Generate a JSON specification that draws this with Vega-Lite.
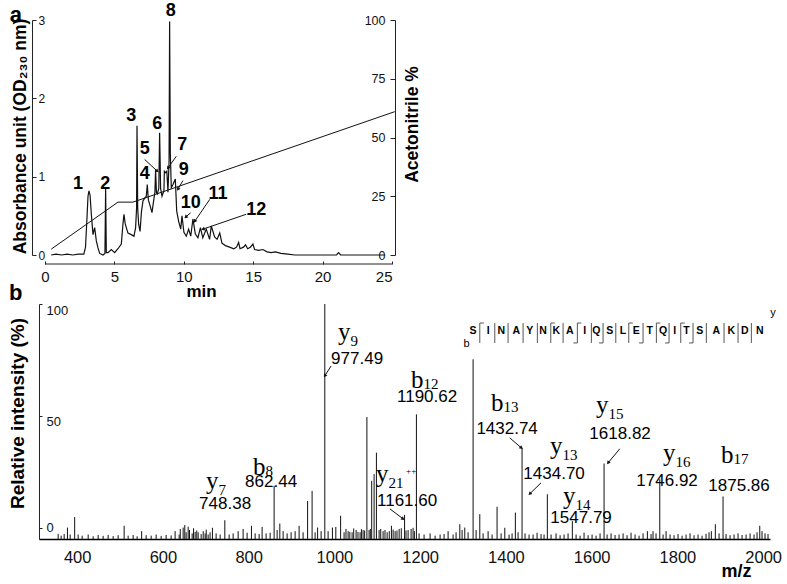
{
  "$schema": "https://vega.github.io/schema/vega-lite/v6.json",
  "background": "white",
  "padding": {"left": 8, "top": 2, "right": 5, "bottom": 5},
  "bounds": "flush",
  "spacing": 49,
  "config": {
    "view": {"stroke": null},
    "font": "Liberation Sans",
    "axis": {"grid": false, "domainColor": "#222", "tickColor": "#222", "labelColor": "#111", "titleColor": "#000", "labelFont": "Liberation Sans", "titleFont": "Liberation Sans", "titleFontWeight": "bold"}
  },
  "datasets": {
    "trace": [
      {"t":0.45,"a":0.0},{"t":0.8,"a":0.01},{"t":1.2,"a":0.0},{"t":1.6,"a":0.01},{"t":2.0,"a":0.0},{"t":2.4,"a":0.01},{"t":2.8,"a":0.01},{"t":2.92,"a":0.1},{"t":3.02,"a":0.45},{"t":3.1,"a":0.75},{"t":3.17,"a":0.82},{"t":3.25,"a":0.76},{"t":3.34,"a":0.52},{"t":3.46,"a":0.26},{"t":3.58,"a":0.35},{"t":3.7,"a":0.18},{"t":3.82,"a":0.09},{"t":3.94,"a":0.02},{"t":4.18,"a":0.0},{"t":4.32,"a":0.02},{"t":4.37,"a":0.85},{"t":4.42,"a":0.03},{"t":4.54,"a":0.03},{"t":4.78,"a":0.07},{"t":5.02,"a":0.03},{"t":5.26,"a":0.08},{"t":5.5,"a":0.14},{"t":5.62,"a":0.4},{"t":5.69,"a":0.52},{"t":5.78,"a":0.4},{"t":5.86,"a":0.35},{"t":5.98,"a":0.28},{"t":6.22,"a":0.26},{"t":6.41,"a":0.24},{"t":6.53,"a":0.35},{"t":6.6,"a":0.6},{"t":6.63,"a":1.65},{"t":6.68,"a":0.6},{"t":6.75,"a":0.39},{"t":6.85,"a":0.3},{"t":6.95,"a":0.55},{"t":7.06,"a":0.69},{"t":7.2,"a":0.73},{"t":7.3,"a":0.75},{"t":7.37,"a":0.9},{"t":7.45,"a":0.7},{"t":7.54,"a":0.65},{"t":7.71,"a":0.54},{"t":7.85,"a":0.72},{"t":7.92,"a":0.8},{"t":7.97,"a":1.09},{"t":8.03,"a":0.8},{"t":8.09,"a":0.78},{"t":8.2,"a":0.85},{"t":8.26,"a":1.56},{"t":8.33,"a":0.85},{"t":8.43,"a":0.75},{"t":8.57,"a":0.82},{"t":8.6,"a":1.07},{"t":8.7,"a":1.05},{"t":8.78,"a":1.07},{"t":8.86,"a":0.8},{"t":8.94,"a":1.2},{"t":8.98,"a":2.98},{"t":9.03,"a":1.3},{"t":9.1,"a":0.86},{"t":9.22,"a":0.9},{"t":9.39,"a":0.97},{"t":9.49,"a":0.56},{"t":9.63,"a":0.43},{"t":9.78,"a":0.33},{"t":9.87,"a":0.5},{"t":10.01,"a":0.29},{"t":10.18,"a":0.24},{"t":10.35,"a":0.33},{"t":10.5,"a":0.24},{"t":10.66,"a":0.46},{"t":10.83,"a":0.27},{"t":11.02,"a":0.22},{"t":11.2,"a":0.35},{"t":11.37,"a":0.22},{"t":11.62,"a":0.33},{"t":11.86,"a":0.2},{"t":11.98,"a":0.37},{"t":12.22,"a":0.23},{"t":12.4,"a":0.2},{"t":12.59,"a":0.28},{"t":12.75,"a":0.15},{"t":13.0,"a":0.12},{"t":13.3,"a":0.1},{"t":13.6,"a":0.08},{"t":13.8,"a":0.1},{"t":13.95,"a":0.16},{"t":14.05,"a":0.08},{"t":14.3,"a":0.1},{"t":14.45,"a":0.13},{"t":14.6,"a":0.08},{"t":14.8,"a":0.1},{"t":14.98,"a":0.14},{"t":15.1,"a":0.07},{"t":15.4,"a":0.06},{"t":15.7,"a":0.07},{"t":16.0,"a":0.04},{"t":16.3,"a":0.03},{"t":16.6,"a":0.04},{"t":17.0,"a":0.02},{"t":17.5,"a":0.01},{"t":18,"a":0},{"t":19,"a":0},{"t":20,"a":0},{"t":21,"a":0},{"t":21.15,"a":0.03},{"t":21.3,"a":0},{"t":22,"a":0},{"t":23,"a":0},{"t":24.5,"a":0}
    ],
    "grad": [{"t":0.45,"p":2.5},{"t":5.26,"p":22.5},{"t":6.34,"p":22.5},{"t":25.2,"p":61}],
    "alabels": [
      {"t":2.38,"a":0.91,"label":"1"},{"t":4.34,"a":0.91,"label":"2"},{"t":6.22,"a":1.78,"label":"3"},{"t":7.18,"a":1.03,"label":"4"},{"t":7.18,"a":1.35,"label":"5"},{"t":8.09,"a":1.67,"label":"6"},{"t":9.89,"a":1.41,"label":"7"},{"t":9.06,"a":3.11,"label":"8"},{"t":9.99,"a":1.09,"label":"9"},{"t":10.5,"a":0.67,"label":"10"},{"t":12.46,"a":0.78,"label":"11"},{"t":15.22,"a":0.58,"label":"12"}
    ],
    "aarrows": [
      {"t":7.18,"a":1.22,"t2":8.09,"a2":1.07,"ang":132.9},
      {"t":9.46,"a":1.26,"t2":8.86,"a2":1.11,"ang":215.4},
      {"t":9.94,"a":0.95,"t2":9.58,"a2":0.84,"ang":211},
      {"t":10.5,"a":0.54,"t2":10.14,"a2":0.485,"ang":229.3},
      {"t":11.87,"a":0.71,"t2":10.79,"a2":0.43,"ang":214.7},
      {"t":14.5,"a":0.52,"t2":11.38,"a2":0.33,"ang":250.9}
    ],
    "peaks": [
      {"mz":355.7,"i":-2.7},{"mz":362.7,"i":-3.5},{"mz":369.7,"i":-2.8},{"mz":377.4,"i":0.1},{"mz":383.7,"i":-3},{"mz":394.2,"i":4.8},{"mz":402.3,"i":-3},{"mz":411.7,"i":-3.5},{"mz":425.7,"i":-3},{"mz":437.3,"i":-3.8},{"mz":449,"i":-3.2},{"mz":460.6,"i":-3.6},{"mz":472.3,"i":-3.2},{"mz":484,"i":-3.7},{"mz":495.6,"i":-3.3},{"mz":509.6,"i":0.9},{"mz":518.9,"i":-3.5},{"mz":530.6,"i":-3.2},{"mz":539.9,"i":-3.8},{"mz":550.4,"i":-1.5},{"mz":560.9,"i":-3.3},{"mz":572.6,"i":-3.5},{"mz":584.2,"i":-3},{"mz":595.9,"i":-3.6},{"mz":607.5,"i":-3.2},{"mz":619.2,"i":-3.4},{"mz":628.5,"i":-1.5},{"mz":637.9,"i":-3},{"mz":640.5,"i":-0.5},{"mz":647.2,"i":0.1},{"mz":651,"i":1.2},{"mz":654.2,"i":-2},{"mz":658.9,"i":0.5},{"mz":662,"i":-1},{"mz":668.2,"i":-2.5},{"mz":671.5,"i":-0.2},{"mz":675.2,"i":-1.8},{"mz":679,"i":-1.2},{"mz":682.2,"i":-2},{"mz":689.2,"i":-2.8},{"mz":694,"i":-1.5},{"mz":698.5,"i":-2.5},{"mz":701,"i":-0.8},{"mz":705.5,"i":-3},{"mz":710,"i":-2},{"mz":715.5,"i":0},{"mz":724.1,"i":-2.5},{"mz":733.5,"i":-3},{"mz":744.4,"i":3.4},{"mz":754.5,"i":-3},{"mz":763.8,"i":-2.5},{"mz":775.5,"i":-1.5},{"mz":787.1,"i":-0.5},{"mz":796.4,"i":-2.2},{"mz":806.5,"i":0.9},{"mz":815.1,"i":-2.5},{"mz":824.4,"i":-2.8},{"mz":831.4,"i":0.4},{"mz":840.7,"i":-2.5},{"mz":850.1,"i":-2.2},{"mz":859.4,"i":18.75},{"mz":866.4,"i":-1},{"mz":872.7,"i":1.9},{"mz":880.4,"i":-1.5},{"mz":889.7,"i":-2.5},{"mz":899,"i":-2},{"mz":908.4,"i":-1.5},{"mz":917.7,"i":0.9},{"mz":927,"i":-2},{"mz":937.5,"i":12},{"mz":948,"i":16.5},{"mz":955,"i":-2},{"mz":960.8,"i":0.1},{"mz":969,"i":-1.5},{"mz":977.6,"i":100},{"mz":985.3,"i":-1.5},{"mz":995.4,"i":0.1},{"mz":1003.3,"i":0.4},{"mz":1014.5,"i":5.4},{"mz":1022.6,"i":-2},{"mz":1027,"i":-0.5},{"mz":1032,"i":-1.5},{"mz":1036,"i":-1.8},{"mz":1041.3,"i":-2},{"mz":1045,"i":-0.3},{"mz":1050.6,"i":-1},{"mz":1055,"i":-1.8},{"mz":1059.9,"i":-2},{"mz":1063,"i":-0.6},{"mz":1066.9,"i":-1},{"mz":1070.5,"i":-1.2},{"mz":1075.8,"i":49.5},{"mz":1080.9,"i":-1},{"mz":1083.8,"i":-0.5},{"mz":1087,"i":21},{"mz":1092.6,"i":24},{"mz":1098,"i":33.6},{"mz":1104.3,"i":-1},{"mz":1108,"i":-0.5},{"mz":1113.6,"i":-1.5},{"mz":1118,"i":-1},{"mz":1123,"i":-2},{"mz":1128,"i":-1.5},{"mz":1133,"i":0.9},{"mz":1137,"i":-0.8},{"mz":1141.6,"i":-1.5},{"mz":1146,"i":-1.2},{"mz":1151,"i":-0.5},{"mz":1156,"i":-0.2},{"mz":1163.7,"i":5.8},{"mz":1167,"i":-1.2},{"mz":1171.9,"i":-1},{"mz":1178.9,"i":-0.5},{"mz":1183.5,"i":0},{"mz":1186.5,"i":-1.5},{"mz":1191.3,"i":50.7},{"mz":1197.5,"i":-2.5},{"mz":1209.2,"i":-3},{"mz":1223.2,"i":-2.5},{"mz":1234.9,"i":-3.5},{"mz":1246.5,"i":-3},{"mz":1255.8,"i":-2.8},{"mz":1265.2,"i":-1.5},{"mz":1276.8,"i":-3},{"mz":1283.8,"i":-2},{"mz":1292.5,"i":1.6},{"mz":1297.8,"i":-1},{"mz":1304.1,"i":0.1},{"mz":1311.8,"i":-2},{"mz":1323.5,"i":75.3},{"mz":1330.5,"i":-1},{"mz":1339.1,"i":6.1},{"mz":1346.8,"i":-2.5},{"mz":1358.5,"i":-1.5},{"mz":1367.8,"i":-3},{"mz":1379.4,"i":9.4},{"mz":1388.8,"i":-2.5},{"mz":1397.4,"i":0},{"mz":1407.4,"i":-3},{"mz":1414.4,"i":-2.5},{"mz":1422.1,"i":6.8},{"mz":1428.4,"i":-2},{"mz":1437.7,"i":35.8},{"mz":1444.7,"i":-2.5},{"mz":1454,"i":-3},{"mz":1463.4,"i":-3},{"mz":1472.7,"i":-2.2},{"mz":1482,"i":-2.8},{"mz":1489,"i":-3},{"mz":1496.7,"i":15},{"mz":1505.4,"i":-3},{"mz":1517,"i":-2.5},{"mz":1526.4,"i":-3.3},{"mz":1535.7,"i":-3},{"mz":1545,"i":-2.5},{"mz":1555,"i":3},{"mz":1563.7,"i":-3},{"mz":1573,"i":-3.5},{"mz":1582.3,"i":-2.2},{"mz":1591.7,"i":-3.3},{"mz":1601,"i":-3},{"mz":1610.3,"i":-3.5},{"mz":1619.6,"i":-2.5},{"mz":1629,"i":28.7},{"mz":1636,"i":-3},{"mz":1645.3,"i":-2.5},{"mz":1654.6,"i":-3.2},{"mz":1663.9,"i":-3},{"mz":1673.3,"i":-2.5},{"mz":1682.6,"i":-3.3},{"mz":1691.9,"i":-2.2},{"mz":1701.3,"i":-3},{"mz":1710.6,"i":-3.5},{"mz":1719.9,"i":-2.5},{"mz":1730,"i":-1.5},{"mz":1738.6,"i":-2.8},{"mz":1743.2,"i":-1.5},{"mz":1750.2,"i":-2.5},{"mz":1758.9,"i":21.7},{"mz":1766.6,"i":-3},{"mz":1773.6,"i":-1.5},{"mz":1782.9,"i":-3},{"mz":1792.2,"i":-3.3},{"mz":1801.5,"i":-2.8},{"mz":1810.9,"i":-3.5},{"mz":1820.2,"i":-3},{"mz":1829.5,"i":-2.5},{"mz":1838.8,"i":-3.3},{"mz":1848.2,"i":-3},{"mz":1857.5,"i":-3.5},{"mz":1866.8,"i":-2.7},{"mz":1873.8,"i":-2},{"mz":1879.2,"i":-1.5},{"mz":1888.5,"i":1.6},{"mz":1897.2,"i":-2.5},{"mz":1906.5,"i":14},{"mz":1913.5,"i":-2.8},{"mz":1922.8,"i":-3.3},{"mz":1932.2,"i":-3},{"mz":1941.5,"i":-2.5},{"mz":1950.8,"i":-3.2},{"mz":1960.2,"i":-3},{"mz":1969.5,"i":-2.5},{"mz":1978.8,"i":-3},{"mz":1985.8,"i":-2},{"mz":1992.1,"i":0.9},{"mz":1997.4,"i":-1.5},{"mz":2004.4,"i":-2.5},{"mz":2011.4,"i":-2.8}
    ],
    "ions": [
      {"mz":1008.6,"i":83.9,"ion":"y","sub":"9","sup":""},
      {"mz":810.4,"i":23.6,"ion":"b","sub":"8","sup":""},
      {"mz":700.8,"i":17.4,"ion":"y","sub":"7","sup":""},
      {"mz":1178.9,"i":62.4,"ion":"b","sub":"12","sup":""},
      {"mz":1097.3,"i":20.5,"ion":"y","sub":"21","sup":"++"},
      {"mz":1365.4,"i":52.2,"ion":"b","sub":"13","sup":""},
      {"mz":1503,"i":33,"ion":"y","sub":"13","sup":""},
      {"mz":1533.4,"i":10.7,"ion":"y","sub":"14","sup":""},
      {"mz":1610.3,"i":51.3,"ion":"y","sub":"15","sup":""},
      {"mz":1766.6,"i":29.9,"ion":"y","sub":"16","sup":""},
      {"mz":1901.8,"i":29,"ion":"b","sub":"17","sup":""}
    ],
    "vals": [
      {"mz":1053,"i":75.4,"v":"977.49"},{"mz":852.4,"i":20.3,"v":"862.44"},{"mz":745.1,"i":10.7,"v":"748.38"},{"mz":1216.2,"i":58.3,"v":"1190.62"},{"mz":1169.6,"i":12.1,"v":"1161.60"},{"mz":1402.8,"i":44.2,"v":"1432.74"},{"mz":1512.4,"i":24.1,"v":"1434.70"},{"mz":1575.3,"i":4.5,"v":"1547.79"},{"mz":1666.3,"i":42,"v":"1618.82"},{"mz":1775.9,"i":21,"v":"1746.92"},{"mz":1943.8,"i":18.75,"v":"1875.86"}
    ],
    "barrows": [
      {"mz":992.3,"i":72.3,"mz2":977.6,"i2":67.9,"ang":212},
      {"mz":1129.2,"i":8.5,"mz2":1160.2,"i2":4,"ang":126.9},
      {"mz":1409,"i":40.2,"mz2":1436.1,"i2":35.7,"ang":130.8},
      {"mz":1482,"i":20.1,"mz2":1455.7,"i2":15.2,"ang":225.8},
      {"mz":1665.6,"i":35.3,"mz2":1638.3,"i2":29,"ang":219.9}
    ],
    "seq": [
      {"mz":1323.5,"r":"S"},{"mz":1358.5,"r":"I"},{"mz":1389.5,"r":"N"},{"mz":1424.5,"r":"A"},{"mz":1455.7,"r":"Y"},{"mz":1486.7,"r":"N"},{"mz":1517.7,"r":"K"},{"mz":1548.9,"r":"A"},{"mz":1583.9,"r":"I"},{"mz":1611,"r":"Q"},{"mz":1642.2,"r":"S"},{"mz":1673.3,"r":"L"},{"mz":1704.3,"r":"E"},{"mz":1735.5,"r":"T"},{"mz":1766.6,"r":"Q"},{"mz":1793.8,"r":"I"},{"mz":1820.9,"r":"T"},{"mz":1852.1,"r":"S"},{"mz":1890.8,"r":"A"},{"mz":1925.8,"r":"K"},{"mz":1957.1,"r":"D"},{"mz":1992.1,"r":"N"}
    ],
    "seqlines": [
      {"mz":1339.1},{"mz":1374.1},{"mz":1405.1},{"mz":1440.1},{"mz":1473.4},{"mz":1504.7},{"mz":1533.4},{"mz":1566.7},{"mz":1599.4},{"mz":1626.6},{"mz":1656.3},{"mz":1686.6},{"mz":1719.9},{"mz":1751},{"mz":1780.6},{"mz":1807.8},{"mz":1836.5},{"mz":1867.5},{"mz":1908.8},{"mz":1941.5},{"mz":1972.5}
    ],
    "hooks": [
      {"mz":1339.1,"mz2":1348.4,"i":91.5},{"mz":1504.7,"mz2":1514,"i":91.5},{"mz":1566.7,"mz2":1576,"i":91.5},{"mz":1686.6,"mz2":1695.9,"i":91.5},{"mz":1751,"mz2":1760.3,"i":91.5},{"mz":1807.8,"mz2":1817.1,"i":91.5},
      {"mz":1557.4,"mz2":1566.7,"i":82.6},{"mz":1617.3,"mz2":1626.6,"i":82.6},{"mz":1710.6,"mz2":1719.9,"i":82.6},{"mz":1771.3,"mz2":1780.6,"i":82.6},{"mz":1827.2,"mz2":1836.5,"i":82.6}
    ]
  },
  "vconcat": [
    {
      "width": 353,
      "height": 235,
      "layer": [
        {
          "layer": [
            {
              "data": {"name": "trace"},
              "mark": {"type": "line", "color": "#111", "strokeWidth": 1.2},
              "encoding": {
                "x": {"field": "t", "type": "quantitative", "scale": {"domain": [-0.43, 25], "nice": false, "zero": false},
                      "axis": {"values": [0,5,10,15,20,25], "format": "d", "title": "min", "domain": false, "offset": 9, "tickSize": -3, "labelPadding": 8, "labelFontSize": 15, "titleFontSize": 17, "titleX": 162, "titleY": 27, "titleBaseline": "middle", "titleAlign": "center"}},
                "y": {"field": "a", "type": "quantitative", "scale": {"domain": [0, 3], "nice": false, "zero": false},
                      "axis": {"orient": "left", "values": [0,1,2,3], "format": "d", "offset": 7, "tickSize": -4, "labelPadding": -2, "labelAlign": "left", "labelFontSize": 12, "title": "Absorbance unit (OD₂₃₀ nm)", "titleFontSize": 17.5, "titleAngle": -90, "titleX": -12, "titleY": 116, "titleAlign": "center", "titleBaseline": "middle"}}
              }
            },
            {
              "data": {"values": [{"t": 0, "t2": 25, "a": -0.115}]},
              "mark": {"type": "rule", "color": "#222", "strokeWidth": 1},
              "encoding": {
                "x": {"field": "t", "type": "quantitative"},
                "x2": {"field": "t2"},
                "y": {"field": "a", "type": "quantitative"}
              }
            },
            {
              "data": {"name": "alabels"},
              "mark": {"type": "text", "fontSize": 18, "fontWeight": "bold", "align": "center", "baseline": "middle", "color": "#000"},
              "encoding": {
                "x": {"field": "t", "type": "quantitative"},
                "y": {"field": "a", "type": "quantitative"},
                "text": {"field": "label"}
              }
            },
            {
              "data": {"name": "aarrows"},
              "mark": {"type": "rule", "color": "#111", "strokeWidth": 1},
              "encoding": {
                "x": {"field": "t", "type": "quantitative"},
                "y": {"field": "a", "type": "quantitative"},
                "x2": {"field": "t2"},
                "y2": {"field": "a2"}
              }
            },
            {
              "data": {"name": "aarrows"},
              "mark": {"type": "point", "shape": "triangle-up", "filled": true, "color": "#111", "size": 16, "opacity": 1},
              "encoding": {
                "x": {"field": "t2", "type": "quantitative"},
                "y": {"field": "a2", "type": "quantitative"},
                "angle": {"field": "ang", "type": "quantitative", "scale": null}
              }
            },
            {
              "data": {"values": [{"t": -2.09, "a": 3.07, "s": "a"}]},
              "mark": {"type": "text", "fontSize": 22, "fontWeight": "bold", "align": "center", "baseline": "middle", "color": "#000"},
              "encoding": {
                "x": {"field": "t", "type": "quantitative"},
                "y": {"field": "a", "type": "quantitative"},
                "text": {"field": "s"}
              }
            }
          ]
        },
        {
          "data": {"name": "grad"},
          "mark": {"type": "line", "color": "#111", "strokeWidth": 1},
          "encoding": {
            "x": {"field": "t", "type": "quantitative"},
            "y": {"field": "p", "type": "quantitative", "scale": {"domain": [0, 100], "nice": false, "zero": false},
                  "axis": {"orient": "right", "values": [0,25,50,75,100], "format": "d", "offset": 3, "tickSize": -5, "labelPadding": -5, "labelAlign": "right", "labelFontSize": 12.5, "title": "Acetonitrile %", "titleFontSize": 17.5, "titleAngle": -90, "titleX": 17, "titleY": 104, "titleAlign": "center", "titleBaseline": "middle"}}
          }
        }
      ],
      "resolve": {"scale": {"y": "independent"}}
    },
    {
      "width": 731,
      "height": 235,
      "layer": [
        {
          "data": {"name": "peaks"},
          "mark": {"type": "rule", "color": "#111", "strokeWidth": 1},
          "encoding": {
            "x": {"field": "mz", "type": "quantitative", "scale": {"domain": [311, 2016], "nice": false, "zero": false},
                  "axis": {"values": [400,600,800,1000,1200,1400,1600,1800,2000], "format": "d", "ticks": false, "tickSize": 0, "labelPadding": 10, "labelFontSize": 16.5, "domainColor": "#000", "domainWidth": 1.5, "title": "m/z", "titleFontSize": 18, "titleX": 697, "titleY": 32, "titleAlign": "center", "titleBaseline": "middle"}},
            "y": {"field": "i", "type": "quantitative", "scale": {"domain": [-5, 100], "nice": false, "zero": false},
                  "axis": {"values": [0,50,100], "format": "d", "tickSize": -3, "labelPadding": -4, "labelAlign": "left", "labelBaseline": {"condition": {"test": "datum.value === 0", "value": "middle"}, "value": "top"}, "labelFontSize": 13, "title": "Relative intensity (%)", "titleFontSize": 19, "titleAngle": -90, "titleX": -21.5, "titleY": 109, "titleAlign": "center", "titleBaseline": "middle"}},
            "y2": {"datum": -5}
          }
        },
        {
          "data": {"name": "ions"},
          "mark": {"type": "text", "font": "Liberation Serif", "fontSize": 25, "align": "left", "baseline": "alphabetic", "color": "#000"},
          "encoding": {
            "x": {"field": "mz", "type": "quantitative"},
            "y": {"field": "i", "type": "quantitative"},
            "text": {"field": "ion"}
          }
        },
        {
          "data": {"name": "ions"},
          "transform": [{"filter": "datum.ion === 'y'"}],
          "mark": {"type": "text", "font": "Liberation Serif", "fontSize": 15, "align": "left", "baseline": "alphabetic", "dx": 12.5, "dy": 6, "color": "#000"},
          "encoding": {
            "x": {"field": "mz", "type": "quantitative"},
            "y": {"field": "i", "type": "quantitative"},
            "text": {"field": "sub"}
          }
        },
        {
          "data": {"name": "ions"},
          "transform": [{"filter": "datum.ion === 'b'"}],
          "mark": {"type": "text", "font": "Liberation Serif", "fontSize": 15, "align": "left", "baseline": "alphabetic", "dx": 12.5, "dy": 1, "color": "#000"},
          "encoding": {
            "x": {"field": "mz", "type": "quantitative"},
            "y": {"field": "i", "type": "quantitative"},
            "text": {"field": "sub"}
          }
        },
        {
          "data": {"name": "ions"},
          "mark": {"type": "text", "font": "Liberation Serif", "fontSize": 9, "align": "left", "baseline": "alphabetic", "dx": 30, "dy": -8, "color": "#000"},
          "encoding": {
            "x": {"field": "mz", "type": "quantitative"},
            "y": {"field": "i", "type": "quantitative"},
            "text": {"field": "sup"}
          }
        },
        {
          "data": {"name": "vals"},
          "mark": {"type": "text", "fontSize": 17, "align": "center", "baseline": "middle", "color": "#000"},
          "encoding": {
            "x": {"field": "mz", "type": "quantitative"},
            "y": {"field": "i", "type": "quantitative"},
            "text": {"field": "v"}
          }
        },
        {
          "data": {"name": "barrows"},
          "mark": {"type": "rule", "color": "#111", "strokeWidth": 1},
          "encoding": {
            "x": {"field": "mz", "type": "quantitative"},
            "y": {"field": "i", "type": "quantitative"},
            "x2": {"field": "mz2"},
            "y2": {"field": "i2"}
          }
        },
        {
          "data": {"name": "barrows"},
          "mark": {"type": "point", "shape": "triangle-up", "filled": true, "color": "#111", "size": 16, "opacity": 1},
          "encoding": {
            "x": {"field": "mz2", "type": "quantitative"},
            "y": {"field": "i2", "type": "quantitative"},
            "angle": {"field": "ang", "type": "quantitative", "scale": null}
          }
        },
        {
          "data": {"name": "seq"},
          "mark": {"type": "text", "fontSize": 10.5, "fontWeight": "bold", "align": "center", "baseline": "middle", "color": "#000"},
          "encoding": {
            "x": {"field": "mz", "type": "quantitative"},
            "y": {"datum": 87.9, "type": "quantitative"},
            "text": {"field": "r"}
          }
        },
        {
          "data": {"name": "seqlines"},
          "mark": {"type": "rule", "color": "#555", "strokeWidth": 1},
          "encoding": {
            "x": {"field": "mz", "type": "quantitative"},
            "y": {"datum": 91.5, "type": "quantitative"},
            "y2": {"datum": 82.6}
          }
        },
        {
          "data": {"name": "hooks"},
          "mark": {"type": "rule", "color": "#555", "strokeWidth": 1},
          "encoding": {
            "x": {"field": "mz", "type": "quantitative"},
            "x2": {"field": "mz2"},
            "y": {"field": "i", "type": "quantitative"}
          }
        },
        {
          "data": {"values": [{"mz": 1308.3, "i": 82.1, "s": "b"}, {"mz": 2023.1, "i": 96, "s": "y"}]},
          "mark": {"type": "text", "fontSize": 11, "align": "center", "baseline": "middle", "color": "#000"},
          "encoding": {
            "x": {"field": "mz", "type": "quantitative"},
            "y": {"field": "i", "type": "quantitative"},
            "text": {"field": "s"}
          }
        },
        {
          "data": {"values": [{"mz": 256.6, "i": 104.7, "s": "b"}]},
          "mark": {"type": "text", "fontSize": 22, "fontWeight": "bold", "align": "center", "baseline": "middle", "color": "#000"},
          "encoding": {
            "x": {"field": "mz", "type": "quantitative"},
            "y": {"field": "i", "type": "quantitative"},
            "text": {"field": "s"}
          }
        }
      ]
    }
  ]
}
